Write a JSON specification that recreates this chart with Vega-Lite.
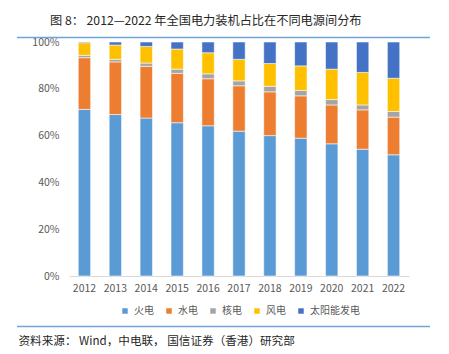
{
  "$schema": "https://vega.github.io/schema/vega-lite/v6.json",
  "width": 340,
  "height": 234,
  "autosize": "none",
  "padding": {"left": 69, "top": 42, "right": 40, "bottom": 78},
  "background": "white",
  "title": {
    "text": "图 8：  2012—2022 年全国电力装机占比在不同电源间分布",
    "anchor": "start",
    "frame": "group",
    "orient": "top",
    "dx": -19,
    "dy": 14,
    "offset": 14,
    "baseline": "alphabetic",
    "font": "Noto Sans CJK SC",
    "fontSize": 12.2,
    "fontWeight": "normal",
    "color": "#262626"
  },
  "config": {
    "view": {"stroke": null},
    "font": "Noto Sans CJK SC"
  },
  "layer": [
    {
      "data": {
        "values": [
          {"year": "2012", "source": "火电", "share": 71.2},
          {"year": "2012", "source": "水电", "share": 22.1},
          {"year": "2012", "source": "核电", "share": 1.0},
          {"year": "2012", "source": "风电", "share": 5.4},
          {"year": "2012", "source": "太阳能发电", "share": 0.3},
          {"year": "2013", "source": "火电", "share": 69.0},
          {"year": "2013", "source": "水电", "share": 22.5},
          {"year": "2013", "source": "核电", "share": 1.1},
          {"year": "2013", "source": "风电", "share": 6.1},
          {"year": "2013", "source": "太阳能发电", "share": 1.3},
          {"year": "2014", "source": "火电", "share": 67.5},
          {"year": "2014", "source": "水电", "share": 22.1},
          {"year": "2014", "source": "核电", "share": 1.4},
          {"year": "2014", "source": "风电", "share": 7.1},
          {"year": "2014", "source": "太阳能发电", "share": 1.9},
          {"year": "2015", "source": "火电", "share": 65.5},
          {"year": "2015", "source": "水电", "share": 21.1},
          {"year": "2015", "source": "核电", "share": 1.8},
          {"year": "2015", "source": "风电", "share": 8.6},
          {"year": "2015", "source": "太阳能发电", "share": 3.0},
          {"year": "2016", "source": "火电", "share": 64.2},
          {"year": "2016", "source": "水电", "share": 20.1},
          {"year": "2016", "source": "核电", "share": 2.1},
          {"year": "2016", "source": "风电", "share": 9.0},
          {"year": "2016", "source": "太阳能发电", "share": 4.6},
          {"year": "2017", "source": "火电", "share": 61.9},
          {"year": "2017", "source": "水电", "share": 19.4},
          {"year": "2017", "source": "核电", "share": 2.1},
          {"year": "2017", "source": "风电", "share": 9.2},
          {"year": "2017", "source": "太阳能发电", "share": 7.4},
          {"year": "2018", "source": "火电", "share": 60.0},
          {"year": "2018", "source": "水电", "share": 18.7},
          {"year": "2018", "source": "核电", "share": 2.4},
          {"year": "2018", "source": "风电", "share": 9.7},
          {"year": "2018", "source": "太阳能发电", "share": 9.2},
          {"year": "2019", "source": "火电", "share": 58.9},
          {"year": "2019", "source": "水电", "share": 18.1},
          {"year": "2019", "source": "核电", "share": 2.3},
          {"year": "2019", "source": "风电", "share": 10.5},
          {"year": "2019", "source": "太阳能发电", "share": 10.2},
          {"year": "2020", "source": "火电", "share": 56.5},
          {"year": "2020", "source": "水电", "share": 16.6},
          {"year": "2020", "source": "核电", "share": 2.3},
          {"year": "2020", "source": "风电", "share": 13.0},
          {"year": "2020", "source": "太阳能发电", "share": 11.6},
          {"year": "2021", "source": "火电", "share": 54.2},
          {"year": "2021", "source": "水电", "share": 16.8},
          {"year": "2021", "source": "核电", "share": 2.1},
          {"year": "2021", "source": "风电", "share": 13.9},
          {"year": "2021", "source": "太阳能发电", "share": 13.0},
          {"year": "2022", "source": "火电", "share": 51.8},
          {"year": "2022", "source": "水电", "share": 16.1},
          {"year": "2022", "source": "核电", "share": 2.4},
          {"year": "2022", "source": "风电", "share": 14.2},
          {"year": "2022", "source": "太阳能发电", "share": 15.5}
        ]
      },
      "transform": [
        {"calculate": "indexof(['火电','水电','核电','风电','太阳能发电'], datum.source)", "as": "stackOrder"}
      ],
      "mark": {"type": "bar", "stroke": "white", "strokeOpacity": 0.55, "strokeWidth": 1},
      "encoding": {
        "x": {
          "field": "year",
          "type": "ordinal",
          "scale": {"paddingInner": 0.6, "paddingOuter": 0.3},
          "axis": {
            "title": "资料来源：  Wind，中电联，  国信证券（香港）研究部",
            "titleX": -51,
            "titleY": 65,
            "titleAlign": "left",
            "titleAnchor": "start",
            "titleBaseline": "middle",
            "titleFont": "Noto Sans CJK SC",
            "titleFontSize": 11.6,
            "titleFontWeight": "normal",
            "titleColor": "#262626",
            "labelAngle": 0,
            "labelFontSize": 10.5,
            "labelColor": "#595959",
            "labelPadding": 7,
            "ticks": false,
            "domainColor": "#D9D9D9",
            "domainWidth": 1
          }
        },
        "y": {
          "field": "share",
          "type": "quantitative",
          "stack": "zero",
          "scale": {"domain": [0, 100], "nice": false},
          "axis": {
            "title": null,
            "values": [0, 20, 40, 60, 80, 100],
            "labelExpr": "datum.value + '%'",
            "labelFontSize": 10.5,
            "labelColor": "#595959",
            "labelPadding": 10,
            "ticks": false,
            "domain": false,
            "grid": false
          }
        },
        "order": {"field": "stackOrder", "type": "quantitative", "sort": "ascending"},
        "color": {
          "field": "source",
          "type": "nominal",
          "sort": ["火电", "水电", "核电", "风电", "太阳能发电"],
          "scale": {
            "domain": ["火电", "水电", "核电", "风电", "太阳能发电"],
            "range": ["#5B9BD5", "#ED7D31", "#A5A5A5", "#FFC000", "#4472C4"]
          },
          "legend": {
            "title": null,
            "orient": "none",
            "direction": "horizontal",
            "legendX": 51,
            "legendY": 264,
            "padding": 0,
            "symbolType": "square",
            "symbolSize": 30,
            "symbolStrokeWidth": 0,
            "labelFontSize": 10,
            "labelColor": "#595959",
            "labelOffset": 4,
            "columnPadding": 10
          }
        }
      }
    },
    {
      "data": {"values": [{"line": "top"}]},
      "mark": {"type": "rule", "color": "#6FA5D8", "strokeWidth": 1.5},
      "encoding": {
        "x": {"value": -52},
        "x2": {"value": 361},
        "y": {"value": -4.5}
      }
    },
    {
      "data": {"values": [{"line": "bottom"}]},
      "mark": {"type": "rule", "color": "#6FA5D8", "strokeWidth": 1.5},
      "encoding": {
        "x": {"value": -52},
        "x2": {"value": 361},
        "y": {"value": 284.5}
      }
    }
  ]
}
